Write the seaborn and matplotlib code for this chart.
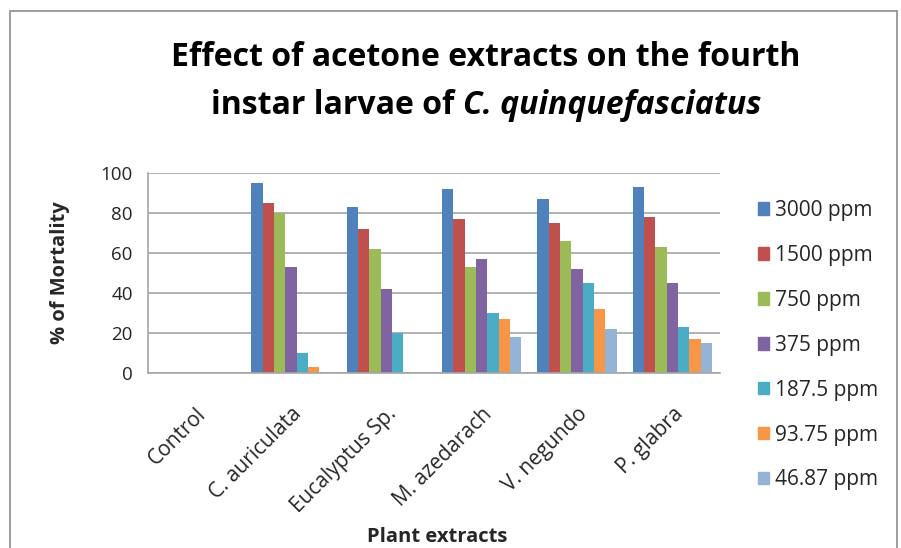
import numpy as np
import pandas as pd
import seaborn as sns
import matplotlib.pyplot as plt
from matplotlib.patches import Rectangle

plants = ['Control', 'C. auriculata', 'Eucalyptus Sp.', 'M. azedarach', 'V. negundo', 'P. glabra']
doses = ['3000 ppm', '1500 ppm', '750 ppm', '375 ppm', '187.5 ppm', '93.75 ppm', '46.87 ppm']
ppm_3000 = [0, 95, 83, 92, 87, 93]
ppm_1500 = [0, 85, 72, 77, 75, 78]
ppm_750 = [0, 80, 62, 53, 66, 63]
ppm_375 = [0, 53, 42, 57, 52, 45]
ppm_187 = [0, 10, 20, 30, 45, 23]
ppm_93 = [0, 3, 0, 27, 32, 17]
ppm_46 = [0, 0, 0, 18, 22, 15]
colors = ['#4F81BD', '#C0504D', '#9BBB59', '#8064A2', '#4BACC6', '#F79646', '#95B3D7']

series = [ppm_3000, ppm_1500, ppm_750, ppm_375, ppm_187, ppm_93, ppm_46]
rows = []
for dose, vals in zip(doses, series):
    for plant, v in zip(plants, vals):
        rows.append({'plant': plant, 'dose': dose, 'mortality': v})
df = pd.DataFrame(rows)

sns.set_style('white')
plt.rcParams['font.family'] = ['Open Sans', 'DejaVu Sans']
txt = '#262626'

fig = plt.figure(figsize=(9.01, 5.48), dpi=100)
ax = fig.add_axes([148 / 901, 175 / 548, 572 / 901, 200 / 548])

sns.barplot(data=df, x='plant', y='mortality', hue='dose', order=plants, hue_order=doses,
            palette=colors, width=0.83, saturation=1, errorbar=None, ax=ax, legend=False,
            linewidth=0)

ax.set_ylim(0, 100)
ax.set_xlim(-0.5, len(plants) - 0.5)
ax.set_yticks(range(0, 101, 20))
ax.yaxis.grid(True, color='#A6A6A6', linewidth=1.2)
ax.set_axisbelow(True)
for s in ['top', 'right']:
    ax.spines[s].set_visible(False)
for s in ['left', 'bottom']:
    ax.spines[s].set_color('#A6A6A6')
    ax.spines[s].set_linewidth(1.2)
ax.tick_params(axis='y', length=6, color='#A6A6A6', width=1.2, labelsize=13.5, pad=5,
               labelcolor=txt)
ax.tick_params(axis='x', length=0, labelsize=15, pad=22, labelcolor=txt)
plt.setp(ax.get_xticklabels(), rotation=45, ha='right', rotation_mode='anchor')
ax.set_ylabel('% of Mortality', fontsize=14.5, fontweight='bold', labelpad=22, color=txt)
ax.set_xlabel('Plant extracts', fontsize=14.5, fontweight='bold', color=txt)
ax.xaxis.label.set_va('center')
ax.xaxis.set_label_coords(0.505, -0.82)

handles = [Rectangle((0, 0), 1, 1, color=c) for c in colors]
fig.legend(handles, doses, loc='upper left', bbox_to_anchor=(739 / 901, 1 - 181 / 548),
           frameon=False, fontsize=15, handlelength=0.55, handleheight=0.55,
           handletextpad=0.3, labelspacing=1.15, labelcolor=txt)

# title, second line partly italic
fig.text(486 / 901, 1 - 58 / 548, 'Effect of acetone extracts on the fourth',
         ha='center', va='center', fontsize=23, fontweight='bold', color='black')
renderer = fig.canvas.get_renderer()
ta = fig.text(0, 1 - 106 / 548, 'instar larvae of ', ha='left', va='center',
              fontsize=23, fontweight='bold', color='black')
tb = fig.text(0, 1 - 106 / 548, 'C. quinquefasciatus', ha='left', va='center',
              fontsize=23, fontweight='bold', fontstyle='italic', color='black')
wa = ta.get_window_extent(renderer).width / fig.bbox.width
wb = tb.get_window_extent(renderer).width / fig.bbox.width
x0 = 486 / 901 - (wa + wb) / 2
ta.set_x(x0)
tb.set_x(x0 + wa)

fig.patches.append(Rectangle((10 / 901, -0.02), 887 / 901, 1.0, transform=fig.transFigure,
                             fill=False, edgecolor='#8C8C8C', linewidth=1.2))

fig.savefig('out.png', dpi=100)
